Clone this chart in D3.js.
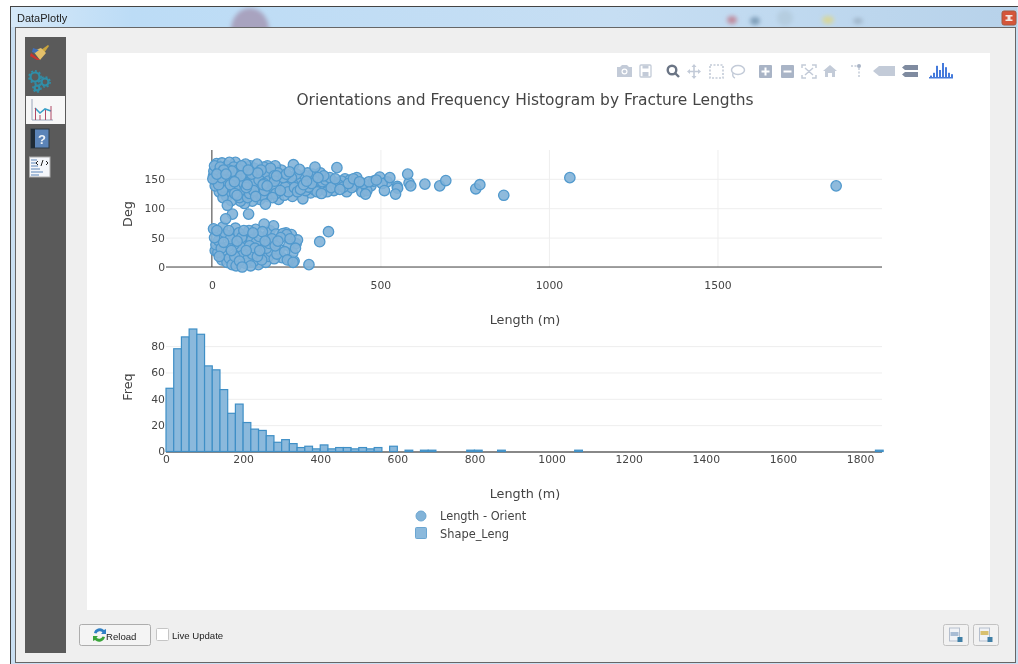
<!DOCTYPE html>
<html>
<head>
<meta charset="utf-8">
<script src="https://d3js.org/d3.v7.min.js"></script>
<style>
  html, body { margin: 0; padding: 0; background: #fff; }
  svg { display: block; filter: blur(0.35px); }
  text { font-family: "DejaVu Sans", Verdana, sans-serif; fill: #444; }
  .ui text, text.ui { font-family: "Liberation Sans", Arial, sans-serif; fill: #222; }
</style>
</head>
<body>
<div id="chart"></div>
<script>
// scatter: fracture length (m) and orientation (deg)
var upperLength = [5,8,12,14,18,20,22,25,28,30,33,35,38,40,42,45,46,48,52,55,57,58,60,
  62,65,67,70,72,75,78,80,83,85,88,90,92,95,97,100,102,104,106,108,110,112,114,116,118,
  120,122,124,126,128,130,132,134,136,138,140,142,144,146,148,150,152,154,156,159,160,
  162,164,166,168,170,172,174,176,178,180,182,184,186,188,190,192,194,196,198,200,203,
  206,209,212,215,218,221,224,227,230,233,236,239,242,245,248,251,254,257,260,263,266,
  270,272,275,278,281,284,287,290,293,296,299,302,306,309,312,315,318,322,325,328,332,
  335,338,342,345,350,354,358,362,366,371,375,380,385,390,395,400,405,410,415,420,425,
  430,438,445,450,456,460,466,472,480,488,498,505,512,520,528,545,550,551,581,585,590,
  632,676,694,783,795,866,1062,1852,
  3,6,10,15,24,32,36,44,50,54,64,68,74,82,86,94,98,105,115,125,135,145,155,165,175,185,195];
var upperDeg = [155,172,148,176,160,140,128,170,152,177,118,165,135,147,158,172,105,125,178,140,152,113,163,
  132,170,145,178,155,122,138,166,148,112,172,128,158,142,108,175,135,152,118,165,145,125,172,138,158,
  112,148,130,168,152,120,142,175,160,128,148,115,136,165,155,122,140,170,130,107,150,
  160,138,120,146,158,128,168,140,152,118,162,134,146,172,125,155,138,160,115,148,130,
  165,142,152,122,136,158,146,128,162,140,152,120,174,135,148,158,128,142,166,132,150,
  116,140,156,130,146,160,136,150,126,142,158,132,170,146,128,152,138,160,125,145,155,
  135,148,128,142,152,135,146,130,150,169,140,132,146,136,150,128,142,148,135,150,138,
  152,145,128,142,124,130,145,138,146,148,153,142,130,145,152,124,137,134,158,143,138,
  141,138,147,133,140,122,152,138,
  150,163,138,158,145,130,155,120,165,132,150,125,162,118,155,170,130,140,155,145,118,150,142,172,125,155,142];
var lowerLength = [5,8,10,12,15,18,20,22,25,28,30,32,35,38,40,41,45,48,50,52,55,58,60,61,62,65,68,70,72,
  75,78,80,82,85,88,90,92,95,98,100,102,105,108,109,110,112,115,118,120,122,125,128,130,132,
  135,138,140,142,145,148,150,152,155,158,160,162,165,168,170,172,175,178,183,185,188,190,
  193,196,200,204,208,211,216,220,222,224,228,231,232,236,240,241,244,248,250,254,288,320,346];
var lowerDeg = [65,50,28,38,62,25,45,18,58,32,12,68,42,22,55,82,8,35,62,15,48,28,4,90,55,38,18,66,2,
  44,25,58,10,34,50,0,20,62,40,6,28,52,14,90,62,36,2,46,22,58,10,32,64,42,
  18,4,52,28,38,12,60,24,73,44,8,32,54,18,40,62,26,48,70,14,36,56,
  22,44,30,50,16,57,26,58,55,12,36,12,48,55,24,8,10,32,40,46,4,43,60];
var scatterLength = upperLength.concat(lowerLength);
var scatterDeg = upperDeg.concat(lowerDeg);

// histogram: left edge of each bin and the count in it
var binLeft = [0,20,40,60,80,100,120,140,160,180,200,220,240,260,280,300,320,340,360,380,
  400,420,440,460,480,500,520,540,580,620,660,680,780,800,860,1060,1840];
var binCount = [48,78,87,93,89,65,62,47,29,36,22,17,16,12,7,9,6,3,4,2,
  5,2,3,3,2,3,2,3,4,1,1,1,1,1,1,1,1];
var binWidth = 20;

var scatterXTicks = [0,500,1000,1500];
var scatterYTicks = [0,50,100,150];
var histXTicks = [0,200,400,600,800,1000,1200,1400,1600,1800];
var histYTicks = [0,20,40,60,80];
var legendNames = ["Length - Orient", "Shape_Leng"];

var chartTitle = "Orientations and Frequency Histogram by Fracture Lengths";
var markFill = "#82b3d8", markLine = "#5199cd";

var svg = d3.select("#chart").append("svg").attr("width", 1018).attr("height", 664);
var defs = svg.append("defs");

var tb = defs.append("linearGradient").attr("id", "titlebar");
tb.append("stop").attr("offset", "0").attr("stop-color", "#d5e8f8");
tb.append("stop").attr("offset", "0.12").attr("stop-color", "#bcdcf6");
tb.append("stop").attr("offset", "0.6").attr("stop-color", "#c6def3");
tb.append("stop").attr("offset", "1").attr("stop-color", "#b7d2ea");
defs.append("filter").attr("id", "blur").append("feGaussianBlur").attr("stdDeviation", 2);
defs.append("clipPath").attr("id", "barclip").append("rect")
  .attr("x", 11).attr("y", 7).attr("width", 1006).attr("height", 20);

var ui = svg.append("g").attr("class", "ui");
drawWindow(ui);

// ---- scatter panel ----
var sx = d3.scaleLinear().domain([-136, 1988]).range([166, 882]);
var sy = d3.scaleLinear().domain([0, 199]).range([267, 150]);

var xAxisTop = svg.append("g").attr("transform", "translate(0,267)")
  .call(d3.axisBottom(sx).tickValues(scatterXTicks).tickFormat(d3.format("d")).tickSize(0).tickPadding(14));
xAxisTop.select(".domain").remove();
xAxisTop.selectAll(".tick line").clone().attr("y1", 0).attr("y2", -117).attr("stroke", "#eee");

var yAxisTop = svg.append("g").attr("transform", "translate(166,0)")
  .call(d3.axisLeft(sy).tickValues(scatterYTicks).tickSize(0).tickPadding(1));
yAxisTop.select(".domain").remove();
yAxisTop.selectAll(".tick line").clone().attr("x1", 0).attr("x2", 716).attr("stroke", "#eee");

// zero lines
svg.append("line").attr("x1", sx(0)).attr("x2", sx(0)).attr("y1", 150).attr("y2", 267)
  .attr("stroke", "#444");
svg.append("line").attr("x1", 166).attr("x2", 882).attr("y1", sy(0)).attr("y2", sy(0))
  .attr("stroke", "#444");

// stack the points out of length order, the arrays are sorted and would overlap like roof tiles
var drawOrder = d3.range(scatterLength.length).sort(function (a, b) {
  return (a * 137) % 101 - (b * 137) % 101;
});

svg.append("g").selectAll("circle")
  .data(drawOrder)
  .enter().append("circle")
  .attr("cx", function (d) { return sx(scatterLength[d]); })
  .attr("cy", function (d) { return sy(scatterDeg[d]); })
  .attr("r", 5.2)
  .attr("fill", markFill).attr("fill-opacity", 0.9)
  .attr("stroke", markLine).attr("stroke-width", 1.3);

// ---- histogram panel ----
var hx = d3.scaleLinear().domain([0, 1857]).range([166, 882]);
var hy = d3.scaleLinear().domain([0, 93]).range([451.5, 329]);

var yAxisBottom = svg.append("g").attr("transform", "translate(165,0)")
  .call(d3.axisLeft(hy).tickValues(histYTicks).tickSize(0).tickPadding(0));
yAxisBottom.select(".domain").remove();
yAxisBottom.selectAll(".tick line").clone().attr("x1", 1).attr("x2", 717).attr("stroke", "#eee");

var xAxisBottom = svg.append("g").attr("transform", "translate(0,451.5)")
  .call(d3.axisBottom(hx).tickValues(histXTicks).tickFormat(d3.format("d")).tickSize(0).tickPadding(4));
xAxisBottom.select(".domain").remove();
svg.append("line").attr("x1", 166).attr("x2", 882).attr("y1", 452).attr("y2", 452)
  .attr("stroke", "#888").attr("stroke-width", 2);

svg.append("g").selectAll("rect")
  .data(binLeft)
  .enter().append("rect")
  .attr("x", function (d) { return hx(d); })
  .attr("y", function (d, i) { return hy(binCount[i]); })
  .attr("width", function (d) { return hx(d + binWidth) - hx(d); })
  .attr("height", function (d, i) { return hy(0) - hy(binCount[i]); })
  .attr("fill", "#8bb9dc")
  .attr("stroke", "#3f8fc6").attr("stroke-width", 1.2);

svg.selectAll(".tick text").style("font-size", "10.8px").style("fill", "#444")
  .style("font-family", '"DejaVu Sans", Verdana, sans-serif');

// ---- titles ----
svg.append("text").attr("x", 525).attr("y", 105).attr("text-anchor", "middle")
  .style("font-size", "15.45px").text(chartTitle);
svg.append("text").attr("x", 525).attr("y", 324).attr("text-anchor", "middle")
  .style("font-size", "12.8px").text("Length (m)");
svg.append("text").attr("x", 525).attr("y", 498).attr("text-anchor", "middle")
  .style("font-size", "12.8px").text("Length (m)");
svg.append("text").attr("transform", "translate(132,214) rotate(-90)").attr("text-anchor", "middle")
  .style("font-size", "12.8px").text("Deg");
svg.append("text").attr("transform", "translate(132,387) rotate(-90)").attr("text-anchor", "middle")
  .style("font-size", "12.8px").text("Freq");

// ---- legend ----
var legend = svg.append("g");
legend.append("circle").attr("cx", 421).attr("cy", 516).attr("r", 5)
  .attr("fill", markFill).attr("stroke", "#6ba6d2");
legend.append("rect").attr("x", 415.5).attr("y", 527.5).attr("width", 11).attr("height", 11).attr("rx", 1)
  .attr("fill", "#8bb9dc").attr("stroke", "#6ba6d2");
legend.selectAll("text").data(legendNames).enter().append("text")
  .attr("x", 440).attr("y", function (d, i) { return 520 + i * 17.5; })
  .style("font-size", "11.4px").text(function (d) { return d; });

drawToolbar(svg.append("g"));

// ---- dialog around the plot ----
function drawWindow(g) {
  g.append("rect").attr("x", 10.5).attr("y", 6.5).attr("width", 1010).attr("height", 660)
    .attr("fill", "#c9dff2").attr("stroke", "#444");
  g.append("rect").attr("x", 11).attr("y", 7).attr("width", 1006).attr("height", 20).attr("fill", "url(#titlebar)");

  // bits of the desktop showing through the glass title bar
  var blobs = g.append("g").attr("clip-path", "url(#barclip)").attr("filter", "url(#blur)");
  [[250,30,19,22,"#a8a3bf"],[732,20,5,4,"#c08a9c"],[755,21,5,4,"#7e9db8"],[828,20,6,4,"#d8d79a"],[858,21,5,3,"#9fb4c8"],[785,18,8,8,"#b5cde0"]]
    .forEach(function (b) {
      blobs.append("ellipse").attr("cx", b[0]).attr("cy", b[1]).attr("rx", b[2]).attr("ry", b[3]).attr("fill", b[4]);
    });

  g.append("text").attr("x", 17).attr("y", 22).style("font-size", "11px").text("DataPlotly");

  // close button
  g.append("rect").attr("x", 1002).attr("y", 11).attr("width", 14).attr("height", 14).attr("rx", 2)
    .attr("fill", "#d5553a").attr("stroke", "#a5583f");
  g.append("path").attr("d", "M1005.5 15h7v1.5h-2v3h2v1.5h-7v-1.5h2v-3h-2z").attr("fill", "#f3e6e0");

  g.append("rect").attr("x", 15.5).attr("y", 27.5).attr("width", 1000).attr("height", 635)
    .attr("fill", "#efefef").attr("stroke", "#666");

  // left tab bar
  g.append("rect").attr("x", 25).attr("y", 37).attr("width", 41).attr("height", 616).attr("fill", "#5a5a5a");
  g.append("rect").attr("x", 26).attr("y", 96).attr("width", 39).attr("height", 28).attr("fill", "#f7f7f7");

  // settings brush
  g.append("path").attr("d", "M41 50l7-5 1 1-5 7z").attr("fill", "#c9a43c");
  g.append("path").attr("d", "M33 51l8-3 5 5-6 7z").attr("fill", "#e4c06a");
  g.append("path").attr("d", "M31 53l9 7-3 0-7-4z").attr("fill", "#c9352f");
  g.append("path").attr("d", "M33 48l6 2-4 3-3-1z").attr("fill", "#3f6fb8");

  // gears
  [[35,77,4.5],[45,82,3.5],[37,88,2.4]].forEach(function (c) {
    g.append("circle").attr("cx", c[0]).attr("cy", c[1]).attr("r", c[2]).attr("fill", "none")
      .attr("stroke", "#2f8ea8").attr("stroke-width", 2.2);
    g.append("circle").attr("cx", c[0]).attr("cy", c[1]).attr("r", c[2] + 1.6).attr("fill", "none")
      .attr("stroke", "#2f8ea8").attr("stroke-width", 1.6).attr("stroke-dasharray", "2,2");
  });

  // plot tab icon
  g.append("path").attr("d", "M32 99v21h21").attr("fill", "none").attr("stroke", "#9aa6bb");
  g.append("path").attr("d", "M35 108l5 5 5-4 6 2").attr("fill", "none").attr("stroke", "#3aa0c8").attr("stroke-width", 1.6);
  g.append("path").attr("d", "M35.5 120v-12M40 120v-5M45.5 120v-10M51 120v-14").attr("stroke", "#b04a66");

  // help tab
  g.append("rect").attr("x", 31).attr("y", 129).attr("width", 18).attr("height", 19).attr("fill", "#5b84b8").attr("stroke", "#2e3a45");
  g.append("rect").attr("x", 31).attr("y", 129).attr("width", 4).attr("height", 19).attr("fill", "#1f2b36");
  g.append("text").attr("x", 42).attr("y", 144).attr("text-anchor", "middle")
    .style("font-size", "13px").style("font-weight", "bold").style("fill", "#eef3f8").text("?");

  // code tab
  g.append("rect").attr("x", 29.5).attr("y", 157).attr("width", 20.5).attr("height", 20).attr("fill", "#f4f6fa").attr("stroke", "#aaa");
  g.append("path").attr("d", "M31 160h6M31 163h5M31 166h7M31 169h9M31 172h12M31 175h8").attr("stroke", "#5b84b8");
  g.append("path").attr("d", "M38 161l-2 2 2 2M46 161l2 2-2 2M43 160l-2 6").attr("fill", "none").attr("stroke", "#222");

  // plot area
  g.append("rect").attr("x", 87).attr("y", 53).attr("width", 903).attr("height", 557).attr("fill", "#fff");

  // bottom row
  g.append("rect").attr("x", 79.5).attr("y", 624.5).attr("width", 71).attr("height", 21).attr("rx", 2)
    .attr("fill", "#f4f4f4").attr("stroke", "#adadad");
  g.append("path").attr("d", "M94 633a6 6 0 0 1 10-3l2-1v5h-5l1.5-1.5a3.5 3.5 0 0 0-6 1z").attr("fill", "#2f7fc4");
  g.append("path").attr("d", "M105 637a6 6 0 0 1-10 3l-2 1v-5h5l-1.5 1.5a3.5 3.5 0 0 0 6-1z").attr("fill", "#3aa43a");
  g.append("text").attr("x", 106).attr("y", 640).style("font-size", "9.6px").text("Reload");
  g.append("rect").attr("x", 156.5).attr("y", 628.5).attr("width", 12).attr("height", 12).attr("rx", 1)
    .attr("fill", "#fff").attr("stroke", "#c5c5c5");
  g.append("text").attr("x", 172).attr("y", 639).style("font-size", "9.6px").text("Live Update");

  [943.5, 973.5].forEach(function (x, i) {
    g.append("rect").attr("x", x).attr("y", 624.5).attr("width", 25).attr("height", 21).attr("rx", 2)
      .attr("fill", "#f2f2f2").attr("stroke", "#c2c2c2");
    g.append("rect").attr("x", x + 6).attr("y", 628).attr("width", 10).attr("height", 13).attr("fill", "#f0f2f6").attr("stroke", "#b5bfce");
    g.append("rect").attr("x", x + 7).attr("y", 632 - i).attr("width", 8).attr("height", 4)
      .attr("fill", i ? "#d8c070" : "#a8bcd4");
    g.append("rect").attr("x", x + 14).attr("y", 637).attr("width", 5).attr("height", 5).attr("fill", "#3f7fa6");
  });
}

// ---- plotly modebar ----
function drawToolbar(g) {
  var light = "#c3cbd8", mid = "#a9b4c6";
  var cy = 71;
  // camera
  g.append("path").attr("d", "M617 " + (cy - 4) + "h3l2-2h5l2 2h3v10h-15z").attr("fill", light);
  g.append("circle").attr("cx", 624.5).attr("cy", cy + 0.5).attr("r", 3).attr("fill", "#fff");
  g.append("circle").attr("cx", 624.5).attr("cy", cy + 0.5).attr("r", 1.8).attr("fill", light);
  // save
  g.append("rect").attr("x", 640).attr("y", cy - 6).attr("width", 11).attr("height", 12).attr("rx", 1)
    .attr("fill", "none").attr("stroke", light).attr("stroke-width", 1.3);
  g.append("rect").attr("x", 642.5).attr("y", cy - 5.5).attr("width", 6).attr("height", 3).attr("fill", light);
  g.append("rect").attr("x", 642.5).attr("y", cy + 1).attr("width", 6).attr("height", 4.5).attr("fill", light);
  // zoom (active)
  g.append("circle").attr("cx", 672).attr("cy", cy - 1).attr("r", 4.3).attr("fill", "none").attr("stroke", "#6b7585").attr("stroke-width", 2.4);
  g.append("line").attr("x1", 675).attr("y1", cy + 2).attr("x2", 679).attr("y2", cy + 6).attr("stroke", "#6b7585").attr("stroke-width", 2.4);
  // pan
  g.append("path").attr("d", "M694 " + (cy - 5) + "v11M689 " + (cy + 0.5) + "h10").attr("stroke", light).attr("stroke-width", 1.6);
  g.append("path").attr("d", "M694 " + (cy - 7) + "l-2.5 3h5zM694 " + (cy + 8) + "l-2.5-3h5zM687 " + (cy + 0.5) + "l3-2.5v5zM701 " + (cy + 0.5) + "l-3-2.5v5z").attr("fill", light);
  // box select
  g.append("rect").attr("x", 710).attr("y", cy - 6).attr("width", 13).attr("height", 13).attr("fill", "none")
    .attr("stroke", light).attr("stroke-width", 1.6).attr("stroke-dasharray", "2,1.5");
  // lasso
  g.append("ellipse").attr("cx", 738).attr("cy", cy - 1).attr("rx", 6.5).attr("ry", 4.5).attr("fill", "none").attr("stroke", light).attr("stroke-width", 1.5);
  g.append("path").attr("d", "M733 " + (cy + 2) + "q-1 4 2 5").attr("fill", "none").attr("stroke", light).attr("stroke-width", 1.4);
  // plus, minus
  g.append("rect").attr("x", 759).attr("y", cy - 6).attr("width", 13).attr("height", 13).attr("rx", 1).attr("fill", mid);
  g.append("path").attr("d", "M765.5 " + (cy - 3.5) + "v8M761.5 " + (cy + 0.5) + "h8").attr("stroke", "#fff").attr("stroke-width", 2);
  g.append("rect").attr("x", 781).attr("y", cy - 6).attr("width", 13).attr("height", 13).attr("rx", 1).attr("fill", mid);
  g.append("path").attr("d", "M783.5 " + (cy + 0.5) + "h8").attr("stroke", "#fff").attr("stroke-width", 2);
  // autoscale
  g.append("path").attr("d", "M802 " + (cy - 3) + "v-3h4M812 " + (cy - 6) + "h4v3M816 " + (cy + 4) + "v3h-4M806 " + (cy + 7) + "h-4v-3M805 " + (cy - 3) + "l8 7M813 " + (cy - 3) + "l-8 7")
    .attr("fill", "none").attr("stroke", light).attr("stroke-width", 1.5);
  // home
  g.append("path").attr("d", "M823 " + cy + "l7-6 7 6h-2v6h-3v-4h-4v4h-3v-6z").attr("fill", light);
  // spikelines
  g.append("path").attr("d", "M851 " + (cy - 5) + "h8").attr("stroke", light).attr("stroke-width", 1.5).attr("stroke-dasharray", "2,1.5");
  g.append("path").attr("d", "M859 " + (cy - 3) + "v10").attr("stroke", light).attr("stroke-width", 1.5).attr("stroke-dasharray", "2,1.5");
  g.append("circle").attr("cx", 859).attr("cy", cy - 5).attr("r", 2).attr("fill", mid);
  // hover closest
  g.append("path").attr("d", "M873 " + cy + "l6-5h16v10h-16z").attr("fill", light);
  // hover compare
  g.append("path").attr("d", "M905 " + (cy - 6) + "h13v5h-13l-3-2.5zM905 " + (cy + 1) + "h13v5h-13l-3-2.5z").attr("fill", "#7f8ba0");
  // plotly logo
  var logo = "#447adb";
  [[930,1],[933,3],[936,8],[939,5],[942,10],[945,7],[948,3],[951,2]].forEach(function (b, i) {
    g.append("rect").attr("x", b[0]).attr("y", cy + 7 - b[1] * 1.4 - 1).attr("width", 2).attr("height", b[1] * 1.4 + 1).attr("fill", logo);
  });
  g.append("rect").attr("x", 929).attr("y", cy + 6).attr("width", 24).attr("height", 1.5).attr("fill", logo);
}
</script>
</body>
</html>
